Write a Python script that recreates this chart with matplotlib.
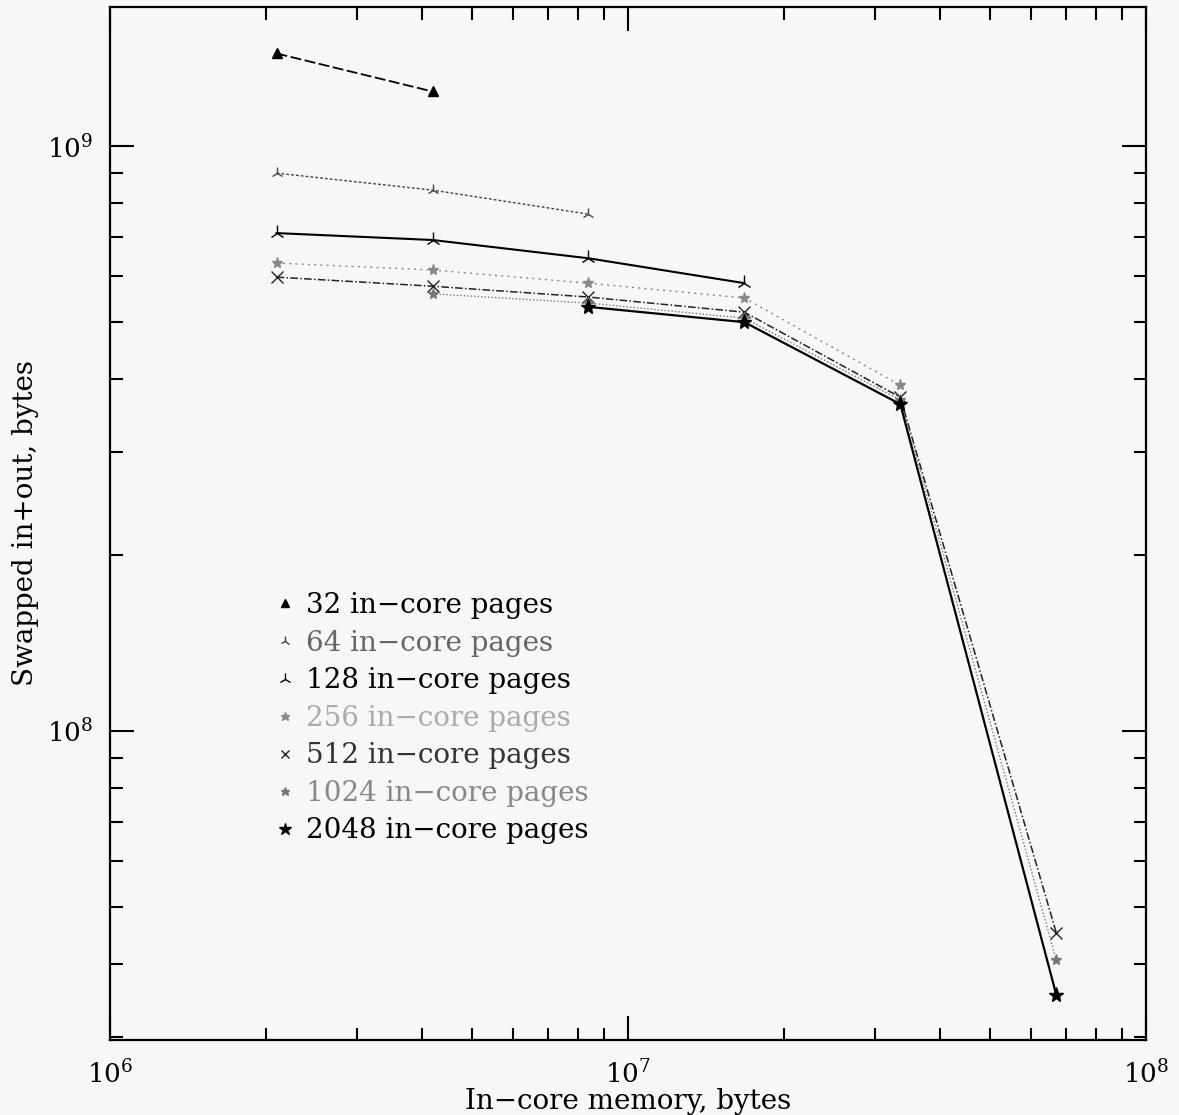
import numpy as np
import matplotlib
matplotlib.use("Agg")
import matplotlib.pyplot as plt
from matplotlib.lines import Line2D
from matplotlib.ticker import LogLocator, NullFormatter

plt.rcParams['font.family'] = 'DejaVu Serif'
plt.rcParams['mathtext.fontset'] = 'dejavuserif'

# in-core memory, bytes (2 MB .. 64 MB)
memory = [2**21, 2**22, 2**23, 2**24, 2**25, 2**26]

# swapped in+out, bytes, per number of in-core pages
pages = [32, 64, 128, 256, 512, 1024, 2048]
swap_32 = [1.44e9, 1.24e9]
swap_64 = [8.99e8, 8.41e8, 7.65e8]
swap_128 = [7.10e8, 6.91e8, 6.43e8, 5.83e8]
swap_256 = [6.31e8, 6.14e8, 5.83e8, 5.50e8, 3.90e8]
swap_512 = [5.97e8, 5.76e8, 5.52e8, 5.20e8, 3.72e8, 4.52e7]
swap_1024 = [5.59e8, 5.39e8, 5.08e8, 3.68e8, 4.06e7]
swap_2048 = [5.31e8, 5.00e8, 3.62e8, 3.54e7]

series = [
    (swap_32, memory[0:2], dict(color='black', ls=(0, (6, 2)), marker='^', ms=7, lw=1.3), 'black'),
    (swap_64, memory[0:3], dict(color='#444444', ls=(0, (2, 1.5)), marker='2', ms=9, lw=1.0), '#666666'),
    (swap_128, memory[0:4], dict(color='black', ls='-', marker='2', ms=11, lw=1.5), 'black'),
    (swap_256, memory[0:5], dict(color='#888888', ls=(0, (1.5, 3)), marker='*', ms=8, lw=1.0), '#aaaaaa'),
    (swap_512, memory[0:6], dict(color='#222222', ls=(0, (5, 1.5, 1, 1.5)), marker='x', ms=8, lw=1.1), '#333333'),
    (swap_1024, memory[1:6], dict(color='#777777', ls=(0, (1, 1.5)), marker='*', ms=8, lw=1.0), '#888888'),
    (swap_2048, memory[2:6], dict(color='black', ls='-', marker='*', ms=11, lw=1.6), 'black'),
]

fig = plt.figure(figsize=(11.79, 11.15), dpi=100)
fig.patch.set_facecolor('#f7f7f7')
ax = fig.add_axes([0.0933, 0.0673, 0.8787, 0.9264])
ax.set_facecolor('#f7f7f7')

handles = []
labels = []
text_colors = []
for ys, xs, style, tcol in series:
    ax.plot(xs, ys, **style)
    handles.append(Line2D([], [], color=style['color'], marker=style['marker'],
                          ms=style['ms'] * 0.8, ls='none'))
    text_colors.append(tcol)
for p in pages:
    labels.append('%d in\u2212core pages' % p)

ax.set_xscale('log')
ax.set_yscale('log')
ax.set_xlim(1e6, 1e8)
ax.set_ylim(2.963e7, 1.729e9)

ax.xaxis.set_major_locator(LogLocator(base=10, numticks=10))
ax.yaxis.set_major_locator(LogLocator(base=10, numticks=10))
ax.xaxis.set_minor_locator(LogLocator(base=10, subs=np.arange(2, 10), numticks=20))
ax.yaxis.set_minor_locator(LogLocator(base=10, subs=np.arange(2, 10), numticks=20))
ax.xaxis.set_minor_formatter(NullFormatter())
ax.yaxis.set_minor_formatter(NullFormatter())

ax.tick_params(which='both', direction='in', top=True, right=True, width=1.5)
ax.tick_params(which='major', length=17, labelsize=19, pad=14)
ax.tick_params(which='minor', length=9)
ax.tick_params(axis='y', which='major', pad=12)
for s in ax.spines.values():
    s.set_linewidth(1.6)

ax.set_xlabel('In\u2212core memory, bytes', fontsize=20, labelpad=0)
ax.set_ylabel('Swapped in+out, bytes', fontsize=20, labelpad=6)

leg = ax.legend(handles, labels, loc='upper left', bbox_to_anchor=(0.149, 0.447),
                frameon=False, fontsize=20, handlelength=0.5, handletextpad=0.5,
                labelspacing=0.38, borderpad=0)
for t, c in zip(leg.get_texts(), text_colors):
    t.set_color(c)

fig.savefig('out.png', dpi=100, facecolor=fig.get_facecolor())
